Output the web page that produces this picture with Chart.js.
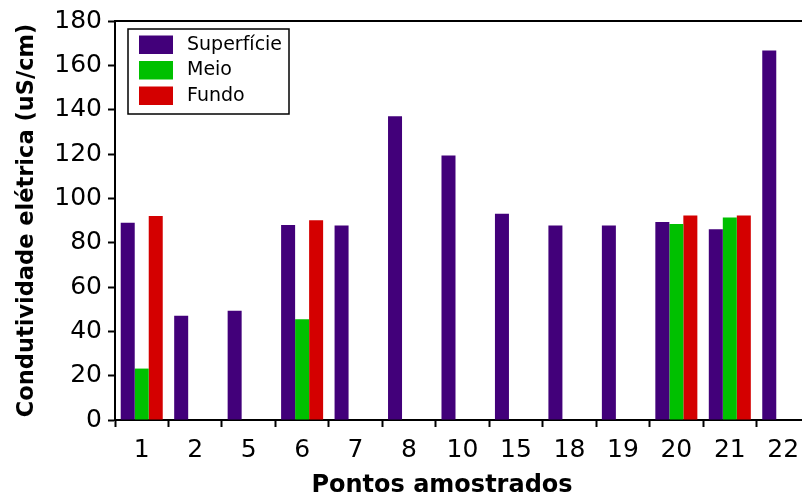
<!DOCTYPE html>
<html>
<head>
<meta charset="utf-8">
<script src="https://cdn.jsdelivr.net/npm/chart.js@4.4.0/dist/chart.umd.min.js"></script>
<style>
  html, body { margin: 0; padding: 0; background: #fff; overflow: hidden; }
</style>
</head>
<body>
<canvas id="chart" width="810" height="504"></canvas>
<script>
const categories = ["1", "2", "5", "6", "7", "8", "10", "15", "18", "19", "20", "21", "22"];
const superficie = [89, 47, 49.3, 88, 87.7, 137, 119.3, 93, 87.7, 87.7, 89.3, 86, 166.7];
const meio = [23.2, null, null, 45.5, null, null, null, null, null, null, 88.4, 91.4, null];
const fundo = [92, null, null, 90.1, null, null, null, null, null, null, 92.3, 92.3, null];
const seriesNames = ["Superfície", "Meio", "Fundo"];
const colors = ["#42007a", "#00c000", "#d40000"];
const xTitle = "Pontos amostrados";

Chart.defaults.font.family = "'DejaVu Sans', sans-serif";
Chart.defaults.color = "#000";

// top frame line, legend box inside the plot and the x title
const frame = {
    id: "frame",
    afterDraw(chart) {
        const ctx = chart.ctx;
        const area = chart.chartArea;
        ctx.save();
        ctx.strokeStyle = "#000";
        ctx.lineWidth = 2;
        ctx.beginPath();
        ctx.moveTo(area.left - 1, area.top);
        ctx.lineTo(area.right, area.top);
        ctx.stroke();

        ctx.lineWidth = 1.5;
        ctx.strokeRect(128, 29, 161, 85);
        ctx.font = "19px 'DejaVu Sans', sans-serif";
        ctx.textBaseline = "middle";
        ctx.textAlign = "left";
        chart.data.datasets.forEach((ds, i) => {
            const y = 35.5 + i * 25.5;
            ctx.fillStyle = ds.backgroundColor;
            ctx.fillRect(139, y, 34, 18.5);
            ctx.fillStyle = "#000";
            ctx.fillText(ds.label, 187, y + 9.5);
        });

        ctx.font = "bold 24px 'DejaVu Sans', sans-serif";
        ctx.textAlign = "center";
        ctx.fillText(xTitle, 442, 486);
        ctx.restore();
    },
};

new Chart(document.getElementById("chart"), {
    type: "bar",
    data: {
        labels: categories,
        datasets: [
            { label: seriesNames[0], data: superficie, backgroundColor: colors[0] },
            { label: seriesNames[1], data: meio, backgroundColor: colors[1] },
            { label: seriesNames[2], data: fundo, backgroundColor: colors[2] },
        ],
    },
    options: {
        responsive: false,
        animation: false,
        layout: { padding: { top: 19, left: 0, right: 0, bottom: 0 } },
        datasets: {
            bar: { barPercentage: 1, categoryPercentage: 0.786, borderWidth: 0 },
        },
        plugins: {
            legend: { display: false },
            tooltip: { enabled: false },
        },
        scales: {
            x: {
                grid: {
                    display: true,
                    drawOnChartArea: false,
                    drawTicks: true,
                    tickLength: 7,
                    tickWidth: 2,
                    tickColor: "#000",
                },
                border: { display: true, color: "#000", width: 2 },
                ticks: { font: { size: 25 }, padding: 8, maxRotation: 0, autoSkip: false },
                afterFit(scale) { scale.height = 84; },
            },
            y: {
                min: 0,
                max: 180,
                ticks: { stepSize: 20, font: { size: 25 }, padding: 6 },
                grid: {
                    display: true,
                    drawOnChartArea: false,
                    drawTicks: true,
                    tickLength: 7,
                    tickWidth: 2,
                    tickColor: "#000",
                },
                border: { display: true, color: "#000", width: 2 },
                title: {
                    display: true,
                    text: "Condutividade elétrica (uS/cm)",
                    font: { size: 22.5, weight: "bold" },
                    padding: { top: 14, bottom: 0 },
                },
                afterFit(scale) { scale.width = 115; },
            },
        },
    },
    plugins: [frame],
});
</script>
</body>
</html>
